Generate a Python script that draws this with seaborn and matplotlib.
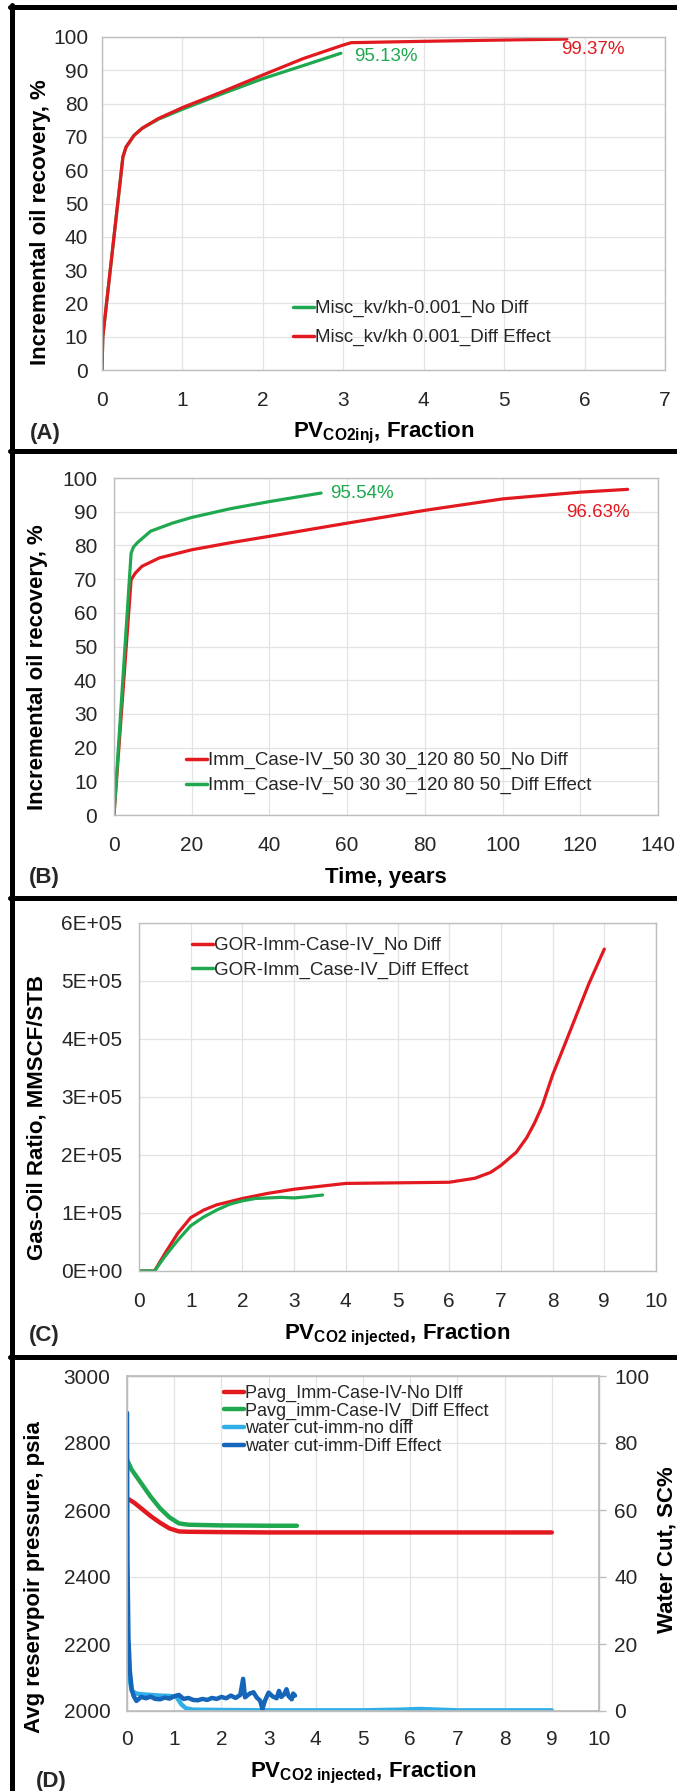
import numpy as np
import pandas as pd
import matplotlib
matplotlib.use("Agg")
import matplotlib.pyplot as plt
from matplotlib.lines import Line2D
import seaborn as sns

# ---------------- data ----------------
# Panel A
a_red_x = [0, 0.01, 0.26, 0.3, 0.4, 0.5, 0.7, 1.0, 1.5, 2.0, 2.5, 3.0, 3.1, 4.0, 5.0, 5.78]
a_red_y = [0, 10, 64, 67, 70.5, 72.6, 75.5, 78.8, 83.6, 88.6, 93.5, 97.6, 98.3, 98.7, 99.1, 99.37]
a_grn_x = [0, 0.01, 0.26, 0.3, 0.4, 0.5, 0.7, 1.0, 1.5, 2.0, 2.5, 2.97]
a_grn_y = [0, 10, 64, 67, 70.5, 72.6, 75.3, 78.3, 83.0, 87.5, 91.4, 95.13]
a_labels = ["Misc_kv/kh-0.001_No Diff", "Misc_kv/kh 0.001_Diff Effect"]

# Panel B
b_red_x = [0, 4.4, 5.5, 7.2, 11.7, 20, 30, 40, 60, 80, 100, 120, 132.2]
b_red_y = [0, 69.8, 71.8, 73.8, 76.3, 78.7, 80.8, 82.7, 86.6, 90.4, 93.8, 95.8, 96.63]
b_grn_x = [0, 4.4, 5.0, 6.1, 9.4, 15, 20, 30, 40, 53.3]
b_grn_y = [0, 77.7, 79.5, 80.9, 84.2, 86.6, 88.3, 90.9, 93.0, 95.54]
b_labels = ["Imm_Case-IV_50 30 30_120 80 50_No Diff", "Imm_Case-IV_50 30 30_120 80 50_Diff Effect"]

# Panel C
c_red_x = [0, 0.3, 0.5, 0.75, 1.0, 1.25, 1.5, 2.0, 2.5, 3.0, 3.5, 4.0, 5.0, 6.0, 6.5, 6.8, 7.0, 7.3, 7.5, 7.65, 7.8, 8.0, 8.3, 8.5, 8.7, 8.85, 9.0]
c_red_y = [0, 0, 3.0e4, 6.5e4, 9.2e4, 1.05e5, 1.14e5, 1.25e5, 1.34e5, 1.41e5, 1.46e5, 1.51e5, 1.52e5, 1.53e5, 1.60e5, 1.70e5, 1.82e5, 2.05e5, 2.30e5, 2.55e5, 2.85e5, 3.38e5, 4.05e5, 4.50e5, 4.95e5, 5.25e5, 5.55e5]
c_grn_x = [0, 0.3, 0.5, 0.75, 1.0, 1.25, 1.5, 1.75, 2.0, 2.25, 2.5, 2.75, 3.0, 3.25, 3.55]
c_grn_y = [0, 0, 2.5e4, 5.3e4, 7.8e4, 9.3e4, 1.05e5, 1.15e5, 1.21e5, 1.25e5, 1.26e5, 1.27e5, 1.26e5, 1.28e5, 1.31e5]
c_labels = ["GOR-Imm-Case-IV_No Diff", "GOR-Imm_Case-IV_Diff Effect"]

# Panel D (pressure, psia)
d_red_x = [0, 0.15, 0.3, 0.5, 0.7, 0.9, 1.1, 1.3, 2, 3, 4, 5, 6, 7, 8, 9]
d_red_y = [2635, 2622, 2605, 2582, 2562, 2545, 2536, 2535, 2534, 2533, 2533, 2533, 2533, 2533, 2533, 2533]
d_grn_x = [0, 0.1, 0.3, 0.5, 0.7, 0.9, 1.1, 1.3, 2, 3, 3.6]
d_grn_y = [2750, 2720, 2680, 2640, 2605, 2578, 2560, 2556, 2554, 2553, 2553]
# Panel D (water cut, %)
d_wc1_x = [0, 0.05, 0.1, 0.2, 0.3, 0.5, 0.7, 0.9, 1.05, 1.15, 1.25, 1.4, 2, 3, 4, 5, 5.8, 6.2, 6.6, 7, 8, 9]
d_wc1_y = [22, 10, 6, 5.2, 5.0, 4.8, 4.6, 4.5, 4.2, 2.0, 0.8, 0.4, 0.3, 0.2, 0.2, 0.2, 0.4, 0.6, 0.4, 0.2, 0.2, 0.2]
d_wc2_x = [0, 0.01, 0.03, 0.06, 0.1, 0.14, 0.2, 0.3, 0.4, 0.5, 0.6, 0.7, 0.8, 0.9, 1.0, 1.1, 1.2, 1.3,
           1.4, 1.5, 1.6, 1.7, 1.8, 1.9, 2.0, 2.1, 2.2, 2.3, 2.4, 2.46, 2.5, 2.6, 2.68, 2.75, 2.82, 2.87,
           2.92, 3.0, 3.08, 3.17, 3.22, 3.27, 3.33, 3.38, 3.42, 3.49, 3.52, 3.56]
d_wc2_y = [89, 45, 22, 12, 6.5, 4.5, 3.0, 4.2, 3.8, 4.3, 3.6, 3.5, 4.0, 3.7, 4.4, 4.8, 3.6, 3.9,
           3.3, 3.2, 3.6, 3.3, 3.9, 3.6, 4.2, 3.8, 4.6, 3.9, 4.8, 9.6, 4.1, 5.2, 5.6, 4.0, 3.1, 0.6,
           3.0, 5.5, 4.4, 3.8, 6.0, 4.2, 5.0, 6.5, 4.5, 3.5, 5.2, 4.6]
d_labels = ["Pavg_Imm-Case-IV-No DIff", "Pavg_imm-Case-IV_Diff Effect",
            "water cut-imm-no diff", "water cut-imm-Diff Effect"]

# ---------------- style ----------------
sns.set_theme(style="whitegrid")
plt.rcParams["font.family"] = ["Liberation Sans", "DejaVu Sans"]
plt.rcParams["mathtext.fontset"] = "custom"
plt.rcParams["mathtext.rm"] = "Liberation Sans"
plt.rcParams["mathtext.bf"] = "Liberation Sans:bold"
plt.rcParams["mathtext.it"] = "Liberation Sans:italic"

RED = "#E2191F"
GREEN = "#1FA84F"
LBLUE = "#32AEE6"
DBLUE = "#1565B8"
GRID = "#E3E3E3"
SPINE = "#BDBDBD"
TXT = "#262626"
TICK_FS = 15
LEG_FS = 13.5

W, H = 677, 1791
fig = plt.figure(figsize=(W / 100, H / 100), dpi=100)
fig.patch.set_facecolor("white")


def add_ax(l, r, t, b):
    return fig.add_axes([l / W, 1 - b / H, (r - l) / W, (b - t) / H])


def style(ax):
    ax.set_facecolor("white")
    ax.grid(True, color=GRID, linewidth=0.9)
    for s in ax.spines.values():
        s.set_color(SPINE)
        s.set_linewidth(1.0)
    ax.tick_params(axis="both", length=0, labelsize=TICK_FS, colors=TXT)


def line(ax, x, y, color, label, lw=2.3):
    df = pd.DataFrame({"x": x, "y": y})
    sns.lineplot(data=df, x="x", y="y", ax=ax, color=color, linewidth=lw,
                 label=label, sort=False, estimator=None, legend=False)


def px_leg(ax, handles, labels, x, y, fs, spacing):
    leg = ax.legend(handles, labels, loc="upper left",
                    bbox_to_anchor=(x / W, 1 - y / H), bbox_transform=fig.transFigure,
                    frameon=False, fontsize=fs, handlelength=1.1, handletextpad=0.06,
                    borderpad=0, borderaxespad=0, labelspacing=spacing)
    for t in leg.get_texts():
        t.set_color(TXT)
    return leg


def labels_pos(ax, l, r, t, b, xl_y, yl_x, yl_y):
    ax.xaxis.set_label_coords(0.5, (b - xl_y) / (b - t))
    ax.xaxis.label.set_va("center")
    ax.yaxis.set_label_coords((yl_x - l) / (r - l), (b - yl_y) / (b - t))
    ax.yaxis.label.set_va("center")


LBL = dict(fontsize=16, fontweight="bold", color="black")
PANEL = dict(fontsize=16, fontweight="bold", va="center", ha="left")

# ---------------- Panel A ----------------
l, r, t, b = 102, 665, 37, 370
axA = add_ax(l, r, t, b)
style(axA)
line(axA, a_grn_x, a_grn_y, GREEN, a_labels[0])
line(axA, a_red_x, a_red_y, RED, a_labels[1])
axA.set_xlim(0, 7)
axA.set_ylim(0, 100)
axA.set_xticks(range(0, 8))
axA.set_yticks(range(0, 101, 10))
axA.tick_params(axis="x", pad=15)
axA.tick_params(axis="y", pad=10)
axA.set_xlabel(r"$\mathbf{PV_{CO2inj}}$, Fraction", **LBL)
axA.set_ylabel("Incremental oil recovery, %", **LBL)
labels_pos(axA, l, r, t, b, 433, 41, 222)
axA.text(3.13, 94, "95.13%", color=GREEN, fontsize=13.5, va="center", ha="left")
axA.text(5.71, 96.1, "99.37%", color=RED, fontsize=13.5, va="center", ha="left")
hA = [Line2D([], [], color=GREEN, lw=2.5), Line2D([], [], color=RED, lw=2.5)]
px_leg(axA, hA, a_labels, 293, 300, LEG_FS, 0.62)
fig.text(30 / W, 1 - 433 / H, "(A)", **PANEL)

# ---------------- Panel B ----------------
l, r, t, b = 114, 658, 478, 815
axB = add_ax(l, r, t, b)
style(axB)
line(axB, b_red_x, b_red_y, RED, b_labels[0])
line(axB, b_grn_x, b_grn_y, GREEN, b_labels[1])
axB.set_xlim(0, 140)
axB.set_ylim(0, 100)
axB.set_xticks(range(0, 141, 20))
axB.set_yticks(range(0, 101, 10))
axB.tick_params(axis="x", pad=15)
axB.tick_params(axis="y", pad=12)
axB.set_xlabel("Time, years", **LBL)
axB.set_ylabel("Incremental oil recovery, %", **LBL)
labels_pos(axB, l, r, t, b, 877, 38, 667)
axB.text(55.6, 95.5, "95.54%", color=GREEN, fontsize=13.5, va="center", ha="left")
axB.text(132.8, 89.9, "96.63%", color=RED, fontsize=13.5, va="center", ha="right")
hB = [Line2D([], [], color=RED, lw=2.5), Line2D([], [], color=GREEN, lw=2.5)]
px_leg(axB, hB, b_labels, 186, 752, LEG_FS, 0.42)
fig.text(29 / W, 1 - 877 / H, "(B)", **PANEL)

# ---------------- Panel C ----------------
l, r, t, b = 139, 656, 923, 1271
axC = add_ax(l, r, t, b)
style(axC)
line(axC, c_red_x, c_red_y, RED, c_labels[0])
line(axC, c_grn_x, c_grn_y, GREEN, c_labels[1])
axC.set_xlim(0, 10)
axC.set_ylim(0, 6e5)
axC.set_xticks(range(0, 11))
axC.set_yticks(np.arange(0, 6.01e5, 1e5))
axC.set_yticklabels([f"{i}E+05" if i else "0E+00" for i in range(7)])
axC.tick_params(axis="x", pad=15)
axC.tick_params(axis="y", pad=12)
axC.set_xlabel(r"$\mathbf{PV_{CO2\ injected}}$, Fraction", **LBL)
axC.set_ylabel("Gas-Oil Ratio, MMSCF/STB", **LBL)
labels_pos(axC, l, r, t, b, 1335, 37, 1118)
hC = [Line2D([], [], color=RED, lw=2.5), Line2D([], [], color=GREEN, lw=2.5)]
px_leg(axC, hC, c_labels, 192, 937, LEG_FS, 0.38)
fig.text(29 / W, 1 - 1335 / H, "(C)", **PANEL)

# ---------------- Panel D ----------------
l, r, t, b = 127, 599, 1376, 1711
axD = add_ax(l, r, t, b)
style(axD)
axD2 = axD.twinx()
axD2.grid(False)
for s in axD2.spines.values():
    s.set_color(SPINE)
axD2.tick_params(axis="y", length=5, width=1, color=SPINE, labelsize=TICK_FS,
                 labelcolor=TXT, pad=6)
line(axD, d_red_x, d_red_y, RED, d_labels[0], lw=3.2)
line(axD, d_grn_x, d_grn_y, GREEN, d_labels[1], lw=3.2)
line(axD2, d_wc1_x, d_wc1_y, LBLUE, d_labels[2], lw=3.2)
line(axD2, d_wc2_x, d_wc2_y, DBLUE, d_labels[3], lw=3.2)
axD.set_xlim(0, 10)
axD.set_ylim(2000, 3000)
axD2.set_ylim(0, 100)
axD.set_xticks(range(0, 11))
axD.set_yticks(range(2000, 3001, 200))
axD2.set_yticks(range(0, 101, 20))
axD.tick_params(axis="x", pad=14)
axD.tick_params(axis="y", pad=12)
axD.set_xlabel(r"$\mathbf{PV_{CO2\ injected}}$, Fraction", **LBL)
axD.set_ylabel("Avg reservpoir pressure, psia", **LBL)
axD2.set_ylabel("Water Cut, SC%", **LBL)
labels_pos(axD, l, r, t, b, 1773, 35, 1577)
axD2.yaxis.set_label_coords((667 - l) / (r - l), (b - 1550) / (b - t))
axD2.yaxis.label.set_va("center")
axD2.set_xlabel("")
hD = [Line2D([], [], color=c, lw=3.2) for c in (RED, GREEN, LBLUE, DBLUE)]
px_leg(axD2, hD, d_labels, 224, 1385, 13, 0.03)
fig.text(36 / W, 1 - 1782 / H, "(D)", **PANEL)

# ---------------- panel frame lines ----------------
lw_frame = 3.6
fig.add_artist(Line2D([12 / W, 12 / W], [0, 1 - 5 / H], color="black", lw=lw_frame,
                      transform=fig.transFigure))
for yy in (7, 451, 898, 1357):
    fig.add_artist(Line2D([10 / W, 1], [1 - yy / H, 1 - yy / H], color="black",
                          lw=lw_frame, transform=fig.transFigure))

fig.savefig("out.png", dpi=100)
